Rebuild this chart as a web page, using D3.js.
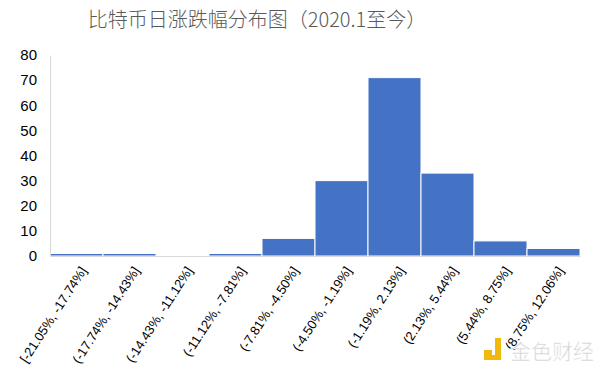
<script src="https://cdn.jsdelivr.net/npm/d3@7"></script>
<body style="margin:0;background:#fff">
<svg width="600" height="374"></svg>
<script>
  // bins and counts (daily BTC returns since 2020.1)
  const bins = [
    "[-21.05%, -17.74%]",
    "(-17.74%, -14.43%]",
    "(-14.43%, -11.12%]",
    "(-11.12%, -7.81%]",
    "(-7.81%, -4.50%]",
    "(-4.50%, -1.19%]",
    "(-1.19%, 2.13%]",
    "(2.13%, 5.44%]",
    "(5.44%, 8.75%]",
    "(8.75%, 12.06%]"
  ];
  const counts = [1, 1, 0, 1, 7, 30, 71, 33, 6, 3];
  const yTicks = [0, 10, 20, 30, 40, 50, 60, 70, 80];
  const title = "比特币日涨跌幅分布图（2020.1至今）";

  const svg = d3.select("svg");
  const x = d3.scaleBand().domain(bins).range([50, 580]).padding(0);
  const y = d3.scaleLinear().domain([0, 80]).range([256, 55]);

  svg.append("text")
    .attr("x", 257).attr("y", 27)
    .attr("text-anchor", "middle")
    .attr("font-family", "'Noto Sans CJK SC', sans-serif")
    .attr("font-weight", 300)
    .attr("font-size", 20)
    .attr("fill", "#595959")
    .text(title);

  // bars
  svg.selectAll("rect.bar")
    .data(counts)
    .enter()
    .append("rect")
    .attr("class", "bar")
    .attr("x", (d, i) => x(bins[i]))
    .attr("width", x.bandwidth())
    .attr("y", d => y(d))
    .attr("height", d => y(0) - y(d))
    .attr("fill", "#4472c4")
    .attr("stroke", "#fff")
    .attr("stroke-width", 1);

  // axes
  const yAxis = svg.append("g")
    .attr("transform", "translate(50,0)")
    .call(d3.axisLeft(y).tickValues(yTicks).tickSize(0).tickPadding(13));
  yAxis.select(".domain").attr("stroke", "#d9d9d9");
  yAxis.selectAll("text")
    .attr("font-family", "'Liberation Sans', Arial, sans-serif")
    .attr("font-size", 15)
    .attr("fill", "#000");

  const xAxis = svg.append("g")
    .attr("transform", "translate(0,256)")
    .call(d3.axisBottom(x).tickSize(0).tickFormat(""));
  xAxis.select(".domain").attr("stroke", "#d9d9d9");

  svg.append("g").selectAll("text")
    .data(bins)
    .enter()
    .append("text")
    .attr("transform", d => `translate(${x(d) + x.bandwidth() / 2 + 7},268) rotate(-57)`)
    .attr("text-anchor", "end")
    .attr("dy", "0.35em")
    .attr("font-family", "'Liberation Sans', Arial, sans-serif")
    .attr("font-size", 13)
    .attr("fill", "#000")
    .text(d => d);

  // watermark
  const wm = svg.append("g").attr("transform", "translate(484,338)");
  wm.append("rect").attr("x", 0).attr("y", 12).attr("width", 8).attr("height", 10).attr("fill", "#f0b90b");
  wm.append("rect").attr("x", 11).attr("y", 0).attr("width", 6).attr("height", 22).attr("fill", "#f0b90b");
  wm.append("rect").attr("x", 0).attr("y", 17).attr("width", 17).attr("height", 5).attr("fill", "#f0b90b");
  wm.append("text")
    .attr("x", 26).attr("y", 21)
    .attr("font-family", "'Noto Sans CJK SC', sans-serif")
    .attr("font-size", 21)
    .attr("fill", "#d0d0d0")
    .attr("stroke", "#fff").attr("stroke-width", 0.6)
    .text("金色财经");
</script>
</body>
